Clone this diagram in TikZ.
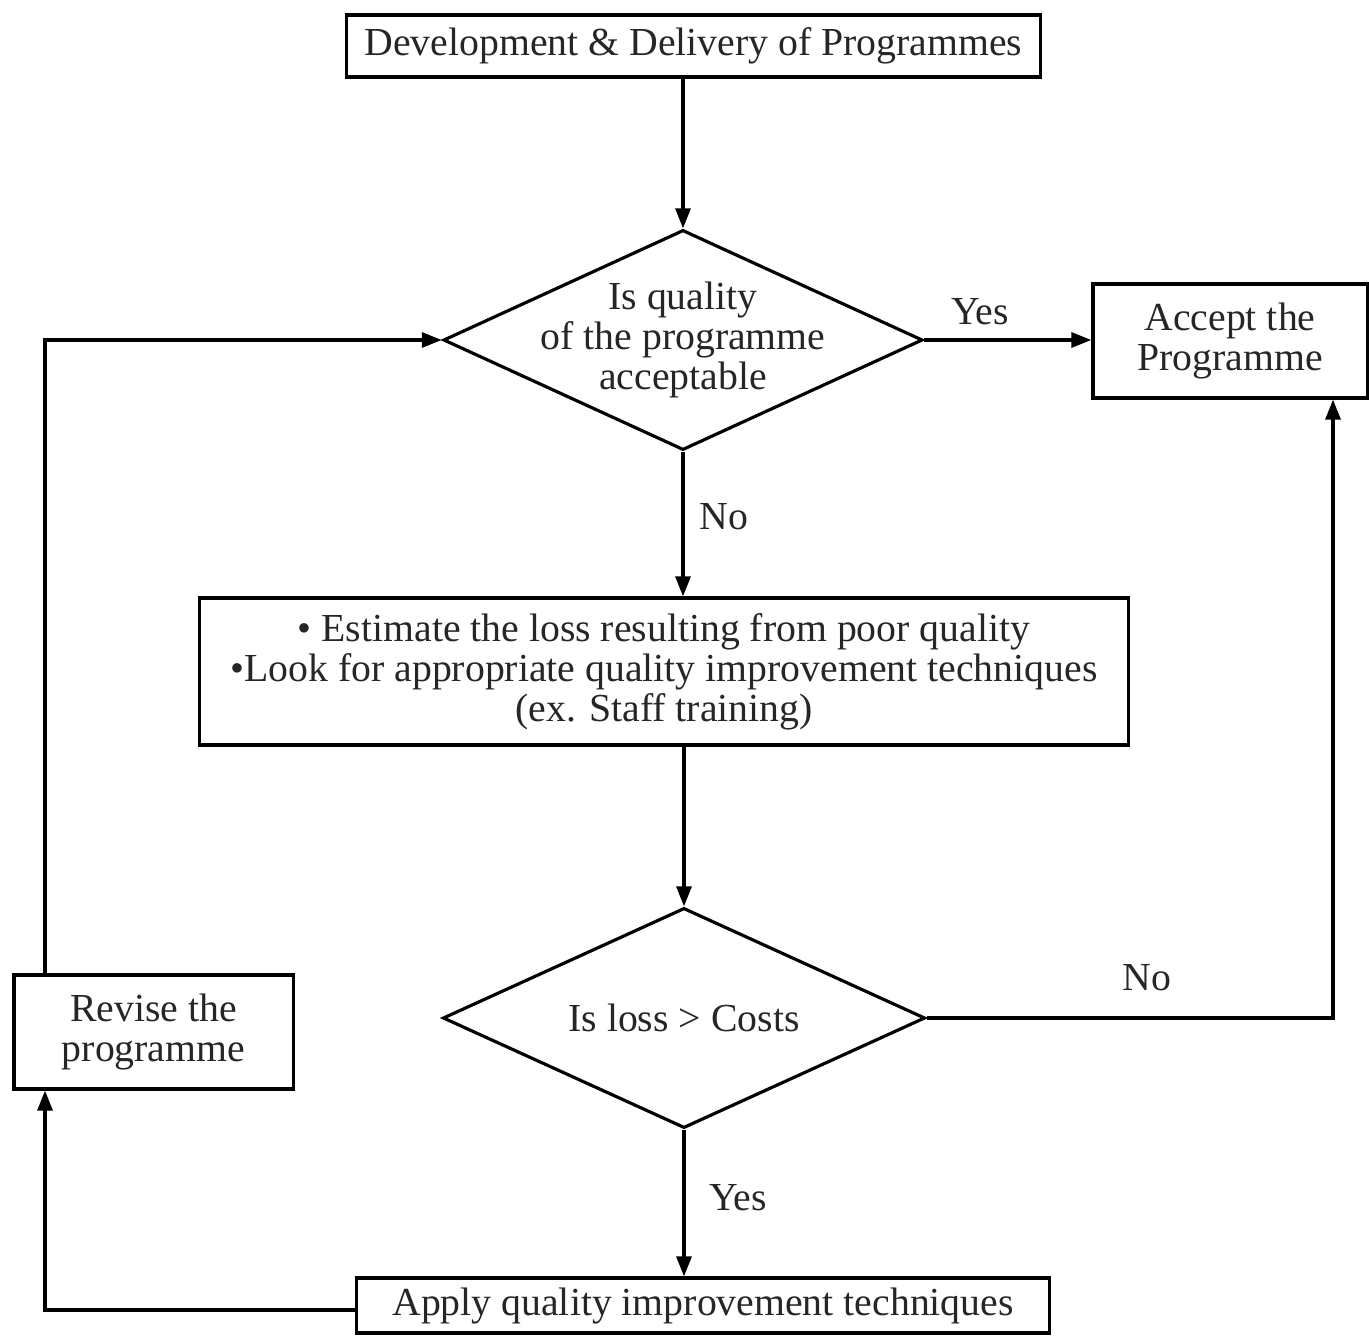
\documentclass[tikz,border=0pt]{standalone}
\usepackage{fontspec}
\setmainfont{Liberation Serif}
\usetikzlibrary{shapes.geometric,arrows.meta}
\begin{document}
\begin{tikzpicture}[x=0.01cm,y=-0.01cm,
  every node/.style={font=\fontsize{11.3}{11.4}\selectfont, text=black!85},
  box/.style={draw, line width=0.9pt, inner sep=0pt, align=center},
  dec/.style={draw, line width=0.9pt, diamond, inner sep=0pt, align=center, aspect=2.18},
  conn/.style={line width=0.9pt},
  arr/.style={conn, -{Triangle[length=0.2cm,width=0.15cm]}},
  lbl/.style={inner sep=0pt, align=center}]
\useasboundingbox (0,0) rectangle (1369,1336);
\node[box, minimum width=6.93cm, minimum height=0.62cm] (top) at (693.5,46) {Development \& Delivery of Programmes};
\node[dec, minimum width=4.79cm, minimum height=2.2cm] (d1) at (683,340) {};
\node[lbl] (d1t) at (d1.center) {Is quality\\of the programme\\acceptable};
\node[box, minimum width=2.74cm, minimum height=1.14cm] (acc) at (1230,341) {Accept the\\Programme};
\node[box, minimum width=9.28cm, minimum height=1.47cm] (mid) at (664,671.5) {• Estimate the loss resulting from poor quality\\•Look for appropriate quality improvement techniques\\(ex. Staff training)};
\node[dec, minimum width=4.82cm, minimum height=2.2cm] (d2) at (684,1018) {Is loss > Costs};
\node[box, minimum width=2.79cm, minimum height=1.14cm] (rev) at (153.5,1032) {Revise the\\programme};
\node[box, minimum width=6.92cm, minimum height=0.55cm] (bot) at (703,1305.5) {Apply quality improvement techniques};
\node[lbl] (yes1) at (980,312) {Yes};
\node[lbl] (no1) at (724,517) {No};
\node[lbl] (no2) at (1147,978) {No};
\node[lbl] (yes2) at (738,1198) {Yes};
\coordinate (rc) at (1333,1018);
\coordinate (lb) at (45,1310);
\coordinate (lt) at (45,340);
\draw[arr] (d1.north |- top.south) -- (d1.north);
\draw[arr] (d1.east) -- (acc.west |- d1.east);
\draw[arr] (d1.south) -- (d1.south |- mid.north);
\draw[arr] (d2.north |- mid.south) -- (d2.north);
\draw[arr] (d2.south) -- (d2.south |- bot.north);
\draw[arr] (d2.east) -- (rc) -- (rc |- acc.south);
\draw[arr] (bot.west |- lb) -- (lb) -- (lb |- rev.south);
\draw[arr] (lt |- rev.north) -- (lt) -- (d1.west);
\end{tikzpicture}
\end{document}
